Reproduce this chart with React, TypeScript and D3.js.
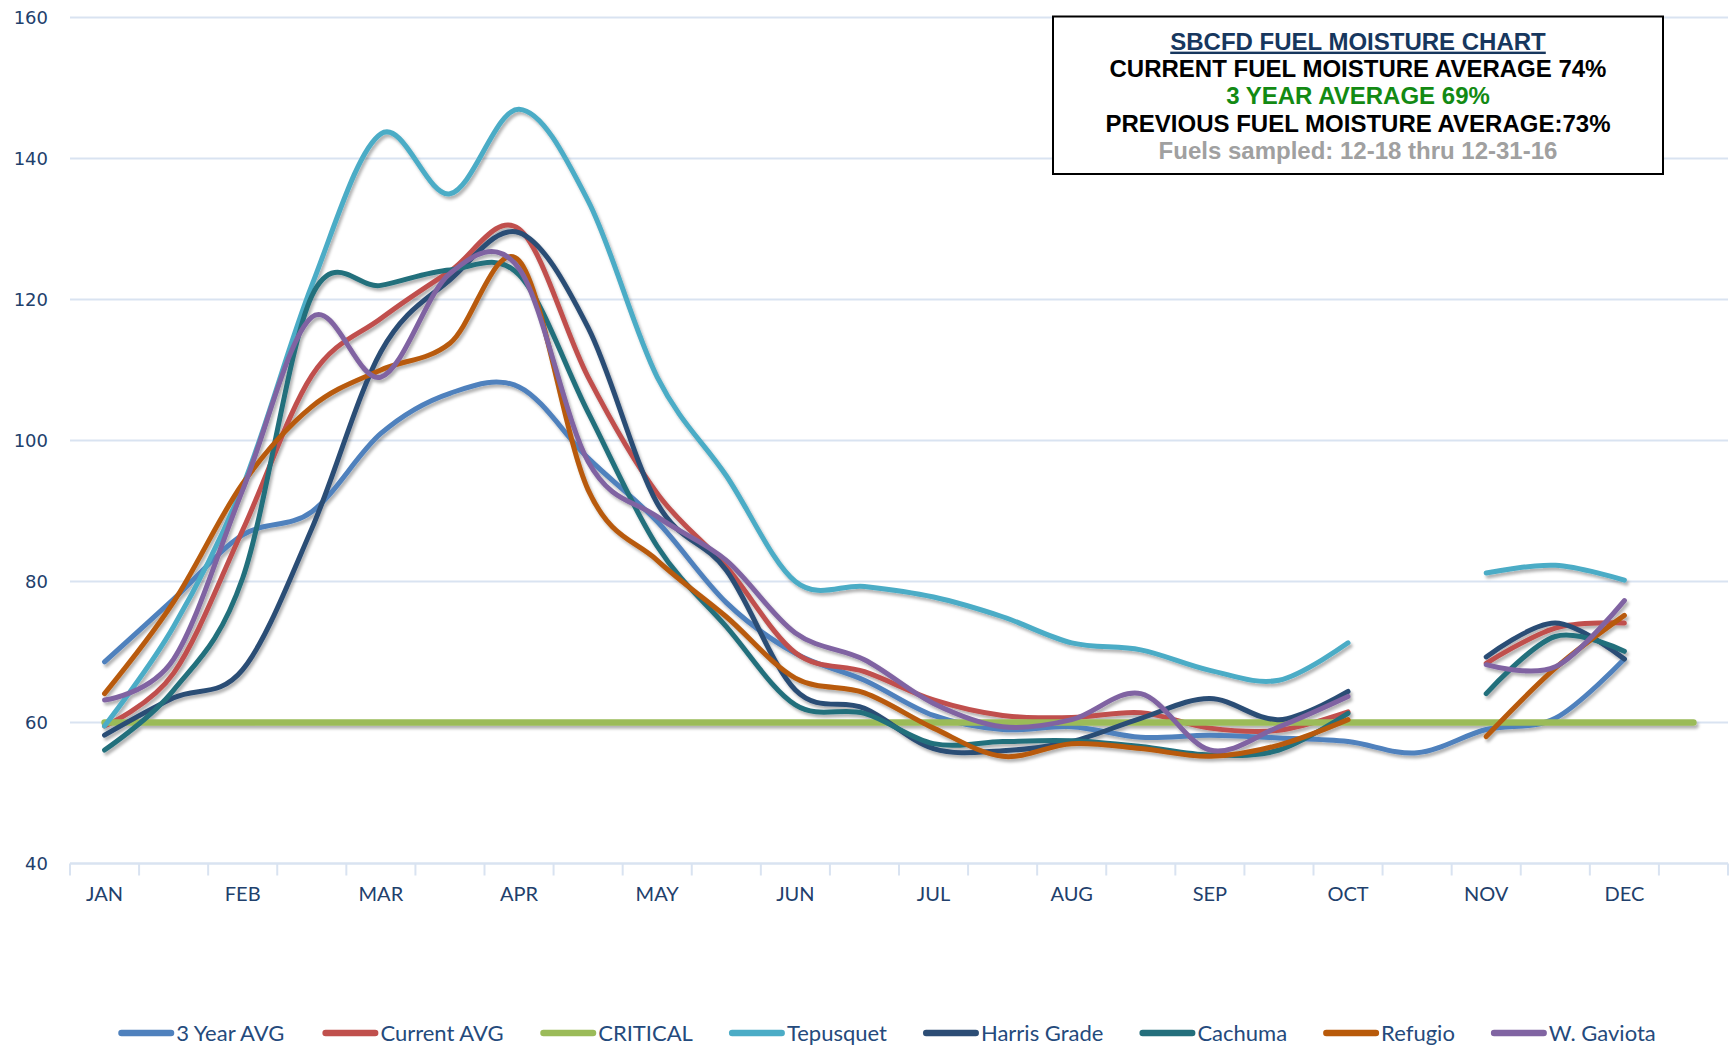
import React, { useMemo } from 'react';
import * as d3 from 'd3';

// half-month periods, label on the first half of each month
const periods = ['JAN', '', 'FEB', '', 'MAR', '', 'APR', '', 'MAY', '', 'JUN', '', 'JUL', '', 'AUG', '', 'SEP', '', 'OCT', '', 'NOV', '', 'DEC', ''];
const yTicks = [40, 60, 80, 100, 120, 140, 160];

type V = number | null;

const threeYearAvg: V[] = [68.6, 77.5, 86.6, 89.9, 101, 106.7, 107.6, 97.5, 88.5, 77, 69.8, 66, 61, 59, 59.4, 57.9, 58.2, 57.8, 57.3, 55.7, 59, 60.6, 69, null];
const currentAvg: V[] = [59.5, 67, 87.3, 109.2, 117.3, 124, 130, 109, 92.5, 82.1, 69.9, 67.2, 63.2, 61, 60.7, 61.4, 59.2, 58.9, 61.5, null, 68.4, 73.4, 74.1, null];
const critical: V[] = [60, 60, 60, 60, 60, 60, 60, 60, 60, 60, 60, 60, 60, 60, 60, 60, 60, 60, 60, 60, 60, 60, 60, 60];
const tepusquet: V[] = [59.5, 73.6, 93.5, 122, 143.5, 135, 147, 134, 109, 95, 80, 79.3, 77.8, 75, 71.3, 70.3, 67.4, 66, 71.3, null, 81.2, 82.3, 80.2, null];
const harrisGrade: V[] = [58.2, 63.5, 67.5, 87.5, 112.6, 122.8, 129.5, 116, 91.1, 81.6, 64.6, 62, 56.3, 56, 57.3, 60.6, 63.4, 60.4, 64.4, null, 69.3, 74.1, 69, null];
const cachuma: V[] = [56.1, 64.6, 80.5, 120.5, 122, 124.2, 123.5, 104, 85, 73.6, 62.5, 61.3, 57, 57.3, 57.4, 56.6, 55.4, 56.1, 61.3, null, 64.1, 72.2, 70.1, null];
const refugio: V[] = [64.1, 77.1, 93.9, 104.8, 110, 113.8, 125.5, 93, 83, 75, 66.3, 64.2, 59.2, 55.2, 57, 56.3, 55.2, 56.8, 60.4, null, 58, 67.7, 75.2, null];
const wGaviota: V[] = [63.2, 69, 93, 117.5, 109, 123.7, 124.4, 97, 89.2, 83, 72.7, 68.9, 62.7, 59.4, 60.4, 64.1, 56.1, 59.4, 63.7, null, 68.2, 67.9, 77.3, null];

const seriesNames = ['3 Year AVG', 'Current AVG', 'CRITICAL', 'Tepusquet', 'Harris Grade', 'Cachuma', 'Refugio', 'W. Gaviota'];
const seriesValues = [threeYearAvg, currentAvg, critical, tepusquet, harrisGrade, cachuma, refugio, wGaviota];
const seriesColors = ['#4F81BD', '#C0504D', '#9BBB59', '#4BACC6', '#2C4D75', '#246F7C', '#B85A0A', '#8064A2'];

const titleLines = [
  { text: 'SBCFD FUEL MOISTURE CHART', color: '#17375E', underline: true },
  { text: 'CURRENT FUEL MOISTURE AVERAGE 74%', color: '#000000', underline: false },
  { text: '3 YEAR AVERAGE 69%', color: '#138A13', underline: false },
  { text: 'PREVIOUS FUEL MOISTURE AVERAGE:73%', color: '#000000', underline: false },
  { text: 'Fuels sampled: 12-18 thru 12-31-16', color: '#A0A0A0', underline: false },
];

const W = 1729;
const H = 1046;
const margin = { top: 17.5, right: 1, bottom: 182.5, left: 70 };
const labelColor = '#21406C';
const gridColor = '#D9E3F1';
const legendFont = '22px Lato';

export default function App() {
  const x = d3.scaleBand<number>().domain(d3.range(periods.length)).range([margin.left, W - margin.right]);
  const y = d3.scaleLinear().domain([40, 160]).range([H - margin.bottom, margin.top]);
  const cx = (i: number) => (x(i) || 0) + x.bandwidth() / 2;

  const line = d3.line<V>()
    .defined(d => d != null)
    .x((d, i) => cx(i))
    .y(d => y(d as number))
    .curve(d3.curveCardinal.tension(0));

  // legend layout from measured text widths
  const legend = useMemo(() => {
    const ctx = document.createElement('canvas').getContext('2d')!;
    ctx.font = legendFont;
    const sw = 56, pad = 2, gap = 36;
    const widths = seriesNames.map(n => ctx.measureText(n).width);
    const total = d3.sum(widths) + seriesNames.length * (sw + pad) + gap * (seriesNames.length - 1);
    let pos = 887 - total / 2;
    return seriesNames.map((n, i) => {
      const item = { name: n, x: pos, color: seriesColors[i] };
      pos += sw + pad + widths[i] + gap;
      return item;
    });
  }, []);

  const boundaries = d3.range(periods.length + 1).map(i => margin.left + i * x.bandwidth());
  const x0 = margin.left, x1 = W - margin.right;
  const boxX = 1053, boxW = 610, boxY = 16.5, boxH = 157.5;

  return (
    <svg width={W} height={H} style={{ position: 'absolute', left: 0, top: 0, background: '#fff' }}>
      <defs>
        <filter id="shadow" x="-5%" y="-5%" width="110%" height="115%">
          <feDropShadow dx="2" dy="3" stdDeviation="1.8" floodColor="#000" floodOpacity="0.3" />
        </filter>
      </defs>
      <rect width={W} height={H} fill="#fff" />

      {/* grid */}
      {yTicks.map(t => (
        <line key={t} x1={x0} x2={x1} y1={y(t)} y2={y(t)} stroke={gridColor} strokeWidth={t === 40 ? 2.5 : 2} />
      ))}
      {boundaries.map((b, i) => (
        <line key={i} x1={b} x2={b} y1={y(40)} y2={y(40) + 12} stroke={gridColor} strokeWidth={2} />
      ))}

      {/* y labels */}
      {yTicks.map(t => (
        <text key={t} x={48} y={y(t)} dy="0.36em" textAnchor="end" fontFamily="DejaVu Sans" fontSize={18} fill={labelColor}>{t}</text>
      ))}

      {/* x labels */}
      {periods.map((p, i) => p ? (
        <text key={i} x={cx(i)} y={894} dy="0.36em" textAnchor="middle" fontFamily="Lato" fontSize={20} fill={labelColor}>{p}</text>
      ) : null)}

      {/* series */}
      <g filter="url(#shadow)">
        {seriesValues.map((vals, s) => (
          <path key={s} d={line(vals) || ''} fill="none" stroke={seriesColors[s]}
            strokeWidth={seriesNames[s] === 'CRITICAL' ? 6.5 : 5} strokeLinecap="round" strokeLinejoin="round" />
        ))}
      </g>

      {/* title box */}
      <rect x={boxX} y={boxY} width={boxW} height={boxH} fill="#fff" stroke="#000" strokeWidth={2} />
      {titleLines.map((l, i) => (
        <text key={i} x={boxX + boxW / 2} y={41 + i * 27.3} dy="0.36em" textAnchor="middle"
          fontFamily="Liberation Sans, Arial, sans-serif" fontWeight="bold" fontSize={24} fill={l.color}
          textDecoration={l.underline ? 'underline' : undefined}>{l.text}</text>
      ))}

      {/* legend */}
      {legend.map(item => (
        <g key={item.name}>
          <line x1={item.x + 3.25} x2={item.x + 52.75} y1={1033} y2={1033} stroke={item.color} strokeWidth={6.5} strokeLinecap="round" />
          <text x={item.x + 58} y={1033} dy="0.36em" fontFamily="Lato" fontSize={22} fill="#244A7C">{item.name}</text>
        </g>
      ))}
    </svg>
  );
}
